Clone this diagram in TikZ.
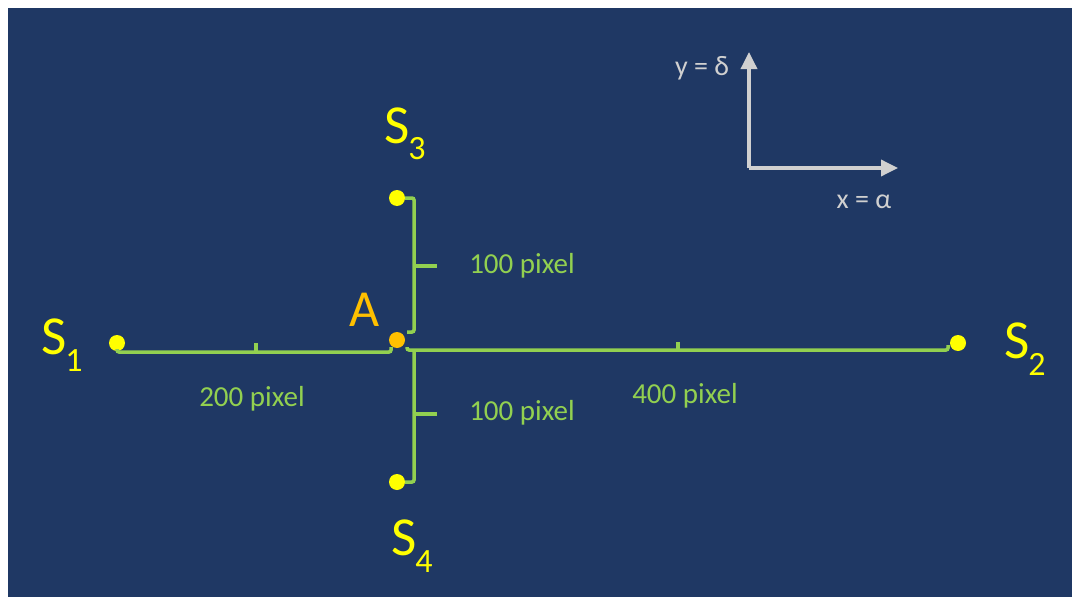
\documentclass[tikz,border=0pt]{standalone}
\usepackage{fontspec}
\setmainfont{Carlito}
\usetikzlibrary{arrows.meta}
\definecolor{bg}{HTML}{1F3864}
\definecolor{grn}{HTML}{92D050}
\definecolor{ylw}{HTML}{FFFF00}
\definecolor{org}{HTML}{FFC000}
\definecolor{axg}{HTML}{D0D0D0}
\newcommand{\Slab}[1]{{\fontsize{55}{55}\selectfont S\kern-0.02em\raisebox{-0.3em}{\fontsize{34}{34}\selectfont #1}}}
\begin{document}
\begin{tikzpicture}[x=1pt,y=-1pt,
  dot/.style={circle,fill=#1,draw=none,minimum size=16pt,inner sep=0pt},
  brk/.style={draw=grn,line width=3.5pt,rounded corners=2pt},
  lbl/.style={text=grn,font=\fontsize{29}{29}\selectfont,inner sep=0pt},
  slab/.style={text=ylw,inner sep=0pt},
  axl/.style={text=axg,font=\fontsize{28}{28}\selectfont,inner sep=0pt},
  ax/.style={draw=axg,line width=3.5pt,-{Triangle[length=17pt,width=16pt]}}]
\useasboundingbox (0,0) rectangle (1072,597);
\fill[white] (0,0) rectangle (1072,597);
\fill[bg] (8,8) rectangle (1072,597);
% dots
\node[dot=ylw] (s1) at (117,343) {};
\node[dot=ylw] (s2) at (958,343) {};
\node[dot=ylw] (s3) at (397,198) {};
\node[dot=ylw] (s4) at (397,482) {};
\node[dot=org] (a) at (397,340) {};
% labels of points
\node[slab] (l1) at (62,345) {\Slab{1}};
\node[slab] (l2) at (1025,349) {\Slab{2}};
\node[slab] (l3) at (405,134) {\Slab{3}};
\node[slab] (l4) at (412,546) {\Slab{4}};
\node[text=org,inner sep=0pt,font=\fontsize{52}{52}\selectfont] (la) at (365,310) {A};
% brackets
\coordinate (b1) at (117,349);
\coordinate (b2) at (391,347);
\draw[brk] (b1) -- (117,352) -- (391,352) -- (b2);
\draw[brk] (256,352) -- (256,343);
\coordinate (b3) at (407,347);
\coordinate (b4) at (948,345);
\draw[brk] (b3) -- (407,350) -- (948,350) -- (b4);
\draw[brk] (678,350) -- (678,342);
\coordinate (b5) at (405,198);
\coordinate (b6) at (407,332);
\draw[brk] (b5) -- (414,198) -- (414,332) -- (b6);
\draw[brk] (414,266) -- (437,266);
\coordinate (b7) at (405,482);
\draw[brk] (414,350) -- (414,482) -- (b7);
\draw[brk] (414,414) -- (437,414);
% distance labels
\node[lbl] (d1) at (522,266) {100 pixel};
\node[lbl] (d2) at (522,413) {100 pixel};
\node[lbl] (d3) at (252,399) {200 pixel};
\node[lbl] (d4) at (685,396) {400 pixel};
% axes
\coordinate (o) at (749,168);
\coordinate (yt) at (749,52);
\coordinate (xt) at (898,168);
\draw[ax] (o) -- (yt);
\draw[ax] (o) -- (xt);
\node[axl] (ya) at (702,68) {y = δ};
\node[axl] (xa) at (864,202) {x = α};
\end{tikzpicture}
\end{document}
